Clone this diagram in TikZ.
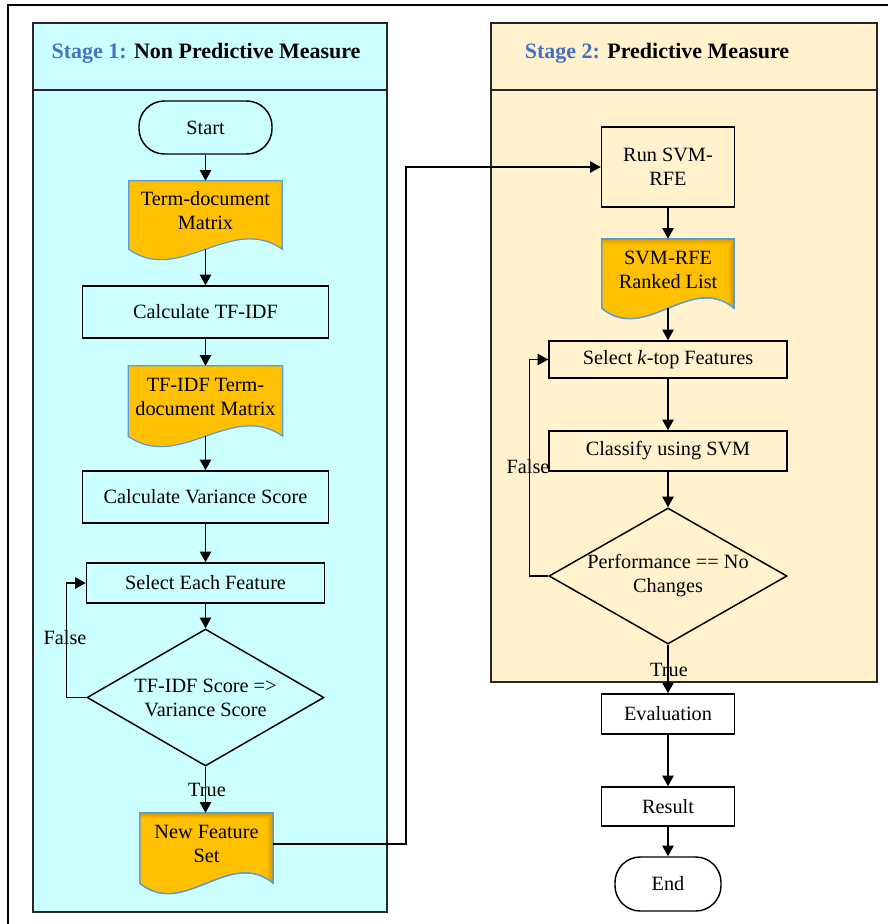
\documentclass[tikz,border=0pt]{standalone}
\usepackage{fontspec}
\setmainfont{Liberation Serif}
\usetikzlibrary{shapes.geometric,arrows.meta,calc}
\pgfdeclarelayer{bg}
\pgfsetlayers{bg,main}
\definecolor{stageone}{RGB}{204,255,255}
\definecolor{stagetwo}{RGB}{255,242,204}
\definecolor{stageblue}{RGB}{68,114,196}
\definecolor{docfill}{RGB}{255,192,0}
\definecolor{docedge}{RGB}{91,155,213}
\definecolor{docshade}{RGB}{150,100,0}
\tikzset{
    every node/.style={font=\fontsize{15.2}{18}\selectfont, inner sep=0pt},
    stagetitle/.style={font=\fontsize{16.5}{20}\selectfont\bfseries},
    procbox/.style={rectangle, draw, line width=1.1pt, align=center},
    termbox/.style={rectangle, draw, line width=1.1pt, rounded corners=19pt},
    decbox/.style={diamond, draw, line width=1.1pt, align=center, inner sep=-2pt, aspect=1.74},
    docnode/.style={rectangle, align=center},
    docline/.style={fill=docfill, draw=docedge, line width=0.9pt},
    arr/.style={-{Triangle[length=8pt,width=8.5pt]}, line width=1.1pt},
    panel/.style={draw=black!85, line width=0.9pt}
}
% wavy document shape round a docnode (sides run 6pt below the node)
\newcommand{\docshape}[2][]{%
  \path[docline,#1] (#2.north west) -- (#2.north east) -- ([yshift=-6pt]#2.south east)
    .. controls ($([yshift=-6pt]#2.south east)!0.33!([yshift=-6pt]#2.south west)+(0,-36)$)
    and ($([yshift=-6pt]#2.south east)!0.67!([yshift=-6pt]#2.south west)+(0,36)$) .. ([yshift=-6pt]#2.south west) -- cycle;}
\newcommand{\docshadow}[1]{%
  \begin{scope}
    \clip (#1.north west) -- (#1.north east) -- ([yshift=-6pt]#1.south east)
      .. controls ($([yshift=-6pt]#1.south east)!0.33!([yshift=-6pt]#1.south west)+(0,-36)$)
      and ($([yshift=-6pt]#1.south east)!0.67!([yshift=-6pt]#1.south west)+(0,36)$) .. ([yshift=-6pt]#1.south west) -- cycle;
    \foreach \w in {8,5,2.5}
      \draw[docshade, opacity=0.15, line width=\w pt]
        (#1.north west) -- (#1.north east) -- ([yshift=-20pt]#1.south east);
  \end{scope}}

\begin{document}
\begin{tikzpicture}[x=0.75pt, y=-0.75pt]
  \useasboundingbox (0,0) rectangle (888,924);
  \draw[line width=1.5pt] (8,940) -- (8,5) -- (900,5);

  \node[stagetitle] (title1) at (206,53) {\textcolor{stageblue}{Stage 1:} Non Predictive Measure};
  \node[stagetitle] (title2) at (657,53) {\textcolor{stageblue}{Stage 2:} Predictive Measure};

  % stage 1
  \node[termbox, minimum width=99.75pt, minimum height=39.75pt] (start) at (205.5,127.5) {Start};
  \node[docnode, minimum width=114.75pt, minimum height=45pt] (termdoc) at (205.5,211) {Term-document\\Matrix};
  \node[procbox, minimum width=184.5pt, minimum height=39pt] (tfidf) at (205.5,312) {Calculate TF-IDF};
  \node[docnode, minimum width=115.5pt, minimum height=46.5pt] (tfidfdoc) at (205.5,397) {TF-IDF Term-\\document Matrix};
  \node[procbox, minimum width=184.5pt, minimum height=39pt] (varscore) at (205.5,497) {Calculate Variance Score};
  \node[procbox, minimum width=178.5pt, minimum height=30pt] (eachfeat) at (205.5,583) {Select Each Feature};
  \node[decbox, minimum width=177.75pt, minimum height=102.75pt] (varcheck) at (205.5,697.5) {TF-IDF Score =>\\Variance Score};
  \node[docnode, minimum width=99.75pt, minimum height=46.5pt] (newset) at (206.5,844) {New Feature\\Set};
  \node (false1) at (65,638) {False};
  \node (true1) at (207,790) {True};

  % stage 2
  \node[procbox, minimum width=99.75pt, minimum height=60pt] (runsvm) at (668,167) {Run SVM-\\RFE};
  \node[docnode, minimum width=99pt, minimum height=45.75pt] (ranked) at (668,269.5) {SVM-RFE\\Ranked List};
  \node[procbox, minimum width=178.5pt, minimum height=27.75pt] (ktop) at (668,359.5) {Select \textit{k}-top Features};
  \node[procbox, minimum width=178.5pt, minimum height=30pt] (classify) at (668,451) {Classify using SVM};
  \node[decbox, minimum width=178.5pt, minimum height=102pt] (perfcheck) at (668,576) {Performance == No\\Changes};
  \node[procbox, minimum width=99.75pt, minimum height=30pt] (evaluation) at (668,714) {Evaluation};
  \node[procbox, minimum width=99.75pt, minimum height=29.25pt] (result) at (668,806.5) {Result};
  \node[termbox, minimum width=79.5pt, minimum height=40.5pt] (finish) at (668,884) {End};
  \node (false2) at (528,467) {False};
  \node (true2) at (669,670) {True};

  \draw[arr] (start) -- (termdoc);
  \draw[arr] ([yshift=-6pt]termdoc.south) -- (tfidf);
  \draw[arr] (tfidf) -- (tfidfdoc);
  \draw[arr] ([yshift=-6pt]tfidfdoc.south) -- (varscore);
  \draw[arr] (varscore) -- (eachfeat);
  \draw[arr] (eachfeat) -- (varcheck);
  \draw[arr] (varcheck.west) -- ++(-20,0) |- (eachfeat.west);
  \draw[arr] (varcheck.south) -- (varcheck.south |- newset.north);
  \draw[arr] (newset.east) -- ++(132.5,0) |- (runsvm.west);

  \draw[arr] (runsvm) -- (ranked);
  \draw[arr] ([yshift=-6pt]ranked.south) -- (ktop);
  \draw[arr] (ktop) -- (classify);
  \draw[arr] (classify) -- (perfcheck);
  \draw[arr] (perfcheck.west) -- ++(-19,0) |- (ktop.west);
  \draw[arr] (perfcheck) -- (evaluation);
  \draw[arr] (evaluation) -- (result);
  \draw[arr] (result) -- (finish);

  \begin{pgfonlayer}{bg}
    \draw[panel, fill=stageone] (33,23) rectangle (387,912);
    \draw[panel] (33,90) -- (387,90);
    \draw[panel, fill=stagetwo] (491,23) rectangle (877,682);
    \draw[panel] (491,90) -- (877,90);
    \docshape{termdoc}
    \docshape{tfidfdoc}
    \docshape{newset}
    \docshadow{newset}
    \docshape[fill=none]{newset}
    \docshape{ranked}
    \docshadow{ranked}
    \docshape[fill=none]{ranked}
  \end{pgfonlayer}
\end{tikzpicture}
\end{document}
